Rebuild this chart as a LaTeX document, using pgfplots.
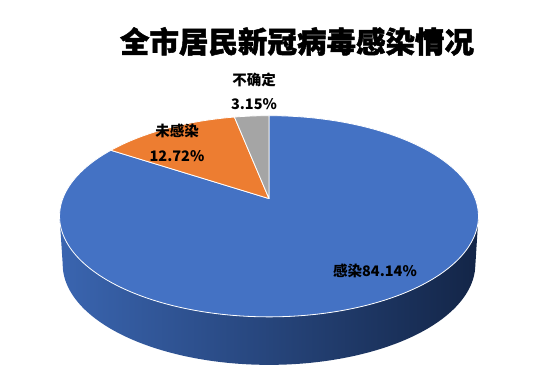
\documentclass[border=0pt]{standalone}
\usepackage{pgfplots}
\usepackage{pgfplotstable}
\pgfplotsset{compat=1.18}
\usepackage{fontspec}
\setmainfont{Noto Sans CJK SC}
\newfontfamily\cjk{Noto Sans CJK SC}
\newfontfamily\cjkT{Noto Sans CJK SC}[BoldFeatures={FakeBold=1.6}]
\definecolor{cBlue}{HTML}{4472C4}
\definecolor{cOrange}{HTML}{ED7D31}
\definecolor{cGray}{HTML}{A5A5A5}
\definecolor{sideL}{HTML}{3A65B0}
\definecolor{sideM}{HTML}{26447F}
\definecolor{sideR}{HTML}{132547}
\pgfplotstableread{
label value
感染 84.14
未感染 12.72
不确定 3.15
}\piedata
\begin{document}
\pgfplotstablegetelem{0}{value}\of\piedata\pgfmathsetmacro\vA{\pgfplotsretval}%
\pgfplotstablegetelem{1}{value}\of\piedata\pgfmathsetmacro\vB{\pgfplotsretval}%
\pgfplotstablegetelem{2}{value}\of\piedata\pgfmathsetmacro\vC{\pgfplotsretval}%
\pgfmathsetmacro\tot{\vA+\vB+\vC}%
\pgfmathsetmacro\thA{90}%
\pgfmathsetmacro\thB{\thA-360*(\vA/\tot)}%
\pgfmathsetmacro\thC{\thB-360*(\vB/\tot)}%
\pgfmathsetmacro\thD{\thC-360*(\vC/\tot)}%
\begin{tikzpicture}
\begin{axis}[
  width=534bp, height=373bp, scale only axis,
  xmin=0, xmax=534, ymin=0, ymax=373, y dir=reverse,
  hide axis, clip=false,
  declare function={
    px(\t)=269+206.2*cos(\t)/(1+0.1756*sin(\t));
    py(\t)=198.6-97.5*sin(\t)/(1+0.1756*sin(\t));
    qx(\t)=269+0.985*206.2*cos(\t)/(1+0.1756*sin(\t));
    qy(\t)=246.6-97.5*sin(\t)/(1+0.1756*sin(\t));
  },
]
% side of the blue slice (front)
\addplot[draw=none, left color=sideL, middle color=sideM, right color=sideR,
  domain=0:2, samples=241]
  ({ x<=1 ? px(-169.89+159.78*x) : qx(-10.11-159.78*(x-1)) },
   { x<=1 ? py(-169.89+159.78*x) : qy(-10.11-159.78*(x-1)) }) -- cycle;
% top faces
\addplot[fill=cBlue, draw=white, line width=0.8bp, line join=round,
  domain=\thB:\thA, samples=300]
  ({px(x)},{py(x)}) -- (axis cs:269,198.6) -- cycle;
\addplot[fill=cOrange, draw=white, line width=0.8bp, line join=round,
  domain=\thC:\thB, samples=60]
  ({px(x)},{py(x)}) -- (axis cs:269,198.6) -- cycle;
\addplot[fill=cGray, draw=white, line width=0.8bp, line join=round,
  domain=\thD:\thC, samples=20]
  ({px(x)},{py(x)}) -- (axis cs:269,198.6) -- cycle;
% title and labels
\node[font=\cjkT\bfseries\fontsize{29.5bp}{32bp}\selectfont, anchor=center]
  at (axis cs:297,41.5) {全市居民新冠病毒感染情况};
\node[font=\cjk\bfseries\fontsize{14.5bp}{16bp}\selectfont, anchor=center]
  at (axis cs:254,79.5) {不确定};
\node[font=\cjk\bfseries\fontsize{14.5bp}{16bp}\selectfont, anchor=center]
  at (axis cs:254,104.5) {3.15\%};
\node[font=\cjk\bfseries\fontsize{14.5bp}{16bp}\selectfont, anchor=center]
  at (axis cs:177,131) {未感染};
\node[font=\cjk\bfseries\fontsize{14.5bp}{16bp}\selectfont, anchor=center]
  at (axis cs:177,156) {12.72\%};
\node[font=\cjk\bfseries\fontsize{14.5bp}{16bp}\selectfont, anchor=center]
  at (axis cs:375,270.5) {感染84.14\%};
\end{axis}
\path[use as bounding box] (current axis.south west) rectangle (current axis.north east);
\end{tikzpicture}
\end{document}
